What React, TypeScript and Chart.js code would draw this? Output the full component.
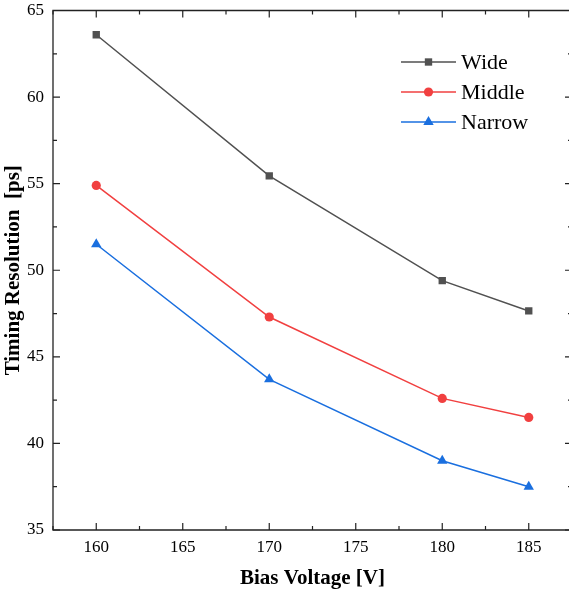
import React, { useEffect, useRef } from "react";
import { Chart, registerables } from "chart.js";

Chart.register(...registerables);

const biasVoltage = [160, 170, 180, 185];
const wideValues = [63.6, 55.45, 49.4, 47.65];
const middleValues = [54.9, 47.3, 42.6, 41.5];
const narrowValues = [51.5, 43.7, 39.0, 37.5];
const xTickLabels = [160, 165, 170, 175, 180, 185];
const yTickLabels = [35, 40, 45, 50, 55, 60, 65];
const seriesNames = ["Wide", "Middle", "Narrow"];

const COLORS = ["#515151", "#F14040", "#1A6FDF"];
const STYLES = ["rect", "circle", "triangle"];
const RADII = [5.2, 4.6, 6];
const FONT = "'Liberation Serif', 'Times New Roman', serif";
const CANVAS_W = 578;

function drawMarker(ctx: CanvasRenderingContext2D, style: string, x: number, y: number, r: number, color: string) {
  ctx.save();
  ctx.fillStyle = color;
  ctx.beginPath();
  if (style === "rect") {
    const s = Math.SQRT1_2 * r;
    ctx.rect(x - s, y - s, 2 * s, 2 * s);
  } else if (style === "circle") {
    ctx.arc(x, y, r, 0, Math.PI * 2);
  } else {
    ctx.moveTo(x, y - r);
    ctx.lineTo(x + r * 0.866, y + r * 0.5);
    ctx.lineTo(x - r * 0.866, y + r * 0.5);
    ctx.closePath();
  }
  ctx.fill();
  ctx.restore();
}

const framePlugin = {
  id: "framePlugin",
  afterDraw(chart: any) {
    const ctx: CanvasRenderingContext2D = chart.ctx;
    const { left, right, top, bottom } = chart.chartArea;
    const xs = chart.scales.x;
    const ys = chart.scales.y;
    ctx.save();
    ctx.strokeStyle = "#222";
    ctx.lineWidth = 1.3;
    ctx.beginPath();
    ctx.rect(left, top, right - left, bottom - top);
    ctx.stroke();
    ctx.lineWidth = 1.2;
    ctx.beginPath();
    for (let v = xs.min; v <= xs.max + 1e-6; v += 2.5) {
      const px = xs.getPixelForValue(v);
      const major = Math.abs(v / 5 - Math.round(v / 5)) < 1e-6;
      const len = major ? 7 : 4;
      ctx.moveTo(px, bottom);
      ctx.lineTo(px, bottom - len);
      ctx.moveTo(px, top);
      ctx.lineTo(px, top + len);
    }
    for (let v = ys.min; v <= ys.max + 1e-6; v += 2.5) {
      const py = ys.getPixelForValue(v);
      const major = Math.abs(v / 5 - Math.round(v / 5)) < 1e-6;
      const len = major ? 7 : 4;
      ctx.moveTo(left, py);
      ctx.lineTo(left + len, py);
      ctx.moveTo(right, py);
      ctx.lineTo(right - len, py);
    }
    ctx.stroke();

    // legend
    const lx0 = 401;
    const lx1 = 456;
    const rows = [62, 92, 122];
    ctx.font = `22px ${FONT}`;
    ctx.textBaseline = "middle";
    ctx.textAlign = "left";
    chart.data.datasets.forEach((ds: any, i: number) => {
      const y = rows[i];
      ctx.strokeStyle = COLORS[i];
      ctx.lineWidth = 1.5;
      ctx.beginPath();
      ctx.moveTo(lx0, y);
      ctx.lineTo(lx1, y);
      ctx.stroke();
      drawMarker(ctx, STYLES[i], (lx0 + lx1) / 2, y, RADII[i], COLORS[i]);
      ctx.fillStyle = "#000";
      ctx.fillText(ds.label, 461, y + 1);
    });
    ctx.restore();
  },
};

export default function App() {
  const ref = useRef<HTMLCanvasElement | null>(null);
  useEffect(() => {
    document.documentElement.style.overflow = "hidden";
    document.body.style.overflow = "hidden";
    const canvas = ref.current;
    if (!canvas) return;
    const seriesValues = [wideValues, middleValues, narrowValues];
    const chart = new Chart(canvas, {
      type: "line",
      data: {
        datasets: seriesNames.map((name, i) => ({
          label: name,
          data: biasVoltage.map((x, j) => ({ x, y: seriesValues[i][j] })),
          borderColor: COLORS[i],
          backgroundColor: COLORS[i],
          borderWidth: 1.5,
          pointStyle: STYLES[i] as any,
          pointRadius: RADII[i],
          pointBorderWidth: 0,
          pointBackgroundColor: COLORS[i],
          tension: 0,
        })),
      },
      options: {
        animation: false,
        responsive: false,
        devicePixelRatio: 1,
        layout: { padding: { top: 10.5, right: 3, left: 0, bottom: 0 } },
        plugins: { legend: { display: false }, tooltip: { enabled: false } },
        scales: {
          x: {
            type: "linear",
            min: 157.5,
            max: 187.5,
            grid: { display: false, drawTicks: false },
            border: { display: false },
            afterBuildTicks: (s: any) => {
              s.ticks = xTickLabels.map((v) => ({ value: v }));
            },
            afterFit: (s: any) => {
              s.height = 62;
              s.paddingLeft = 0;
              s.paddingRight = 0;
              s.paddingTop = 0;
              s.paddingBottom = 0;
            },
            ticks: {
              padding: 7,
              color: "#000",
              font: { family: FONT, size: 17 },
              maxRotation: 0,
              autoSkip: false,
            },
            title: {
              display: true,
              text: "Bias Voltage [V]",
              color: "#000",
              font: { family: FONT, size: 21, weight: "bold" },
              padding: { top: 0, bottom: 1 },
            },
          },
          y: {
            type: "linear",
            min: 35,
            max: 65,
            grid: { display: false, drawTicks: false },
            border: { display: false },
            afterBuildTicks: (s: any) => {
              s.ticks = yTickLabels.map((v) => ({ value: v }));
            },
            afterFit: (s: any) => {
              s.width = 53;
              s.paddingLeft = 0;
              s.paddingRight = 0;
              s.paddingTop = 0;
              s.paddingBottom = 0;
            },
            ticks: {
              padding: 9,
              color: "#000",
              font: { family: FONT, size: 17 },
              autoSkip: false,
            },
            title: {
              display: true,
              text: "Timing Resolution  [ps]",
              color: "#000",
              font: { family: FONT, size: 21, weight: "bold" },
              padding: { top: 1, bottom: 0 },
            },
          },
        },
      },
      plugins: [framePlugin],
    });
    return () => chart.destroy();
  }, []);
  return (
    <div style={{ position: "absolute", left: 0, top: 0, width: CANVAS_W, height: 592 }}>
      <canvas ref={ref} width={CANVAS_W} height={592} />
    </div>
  );
}
